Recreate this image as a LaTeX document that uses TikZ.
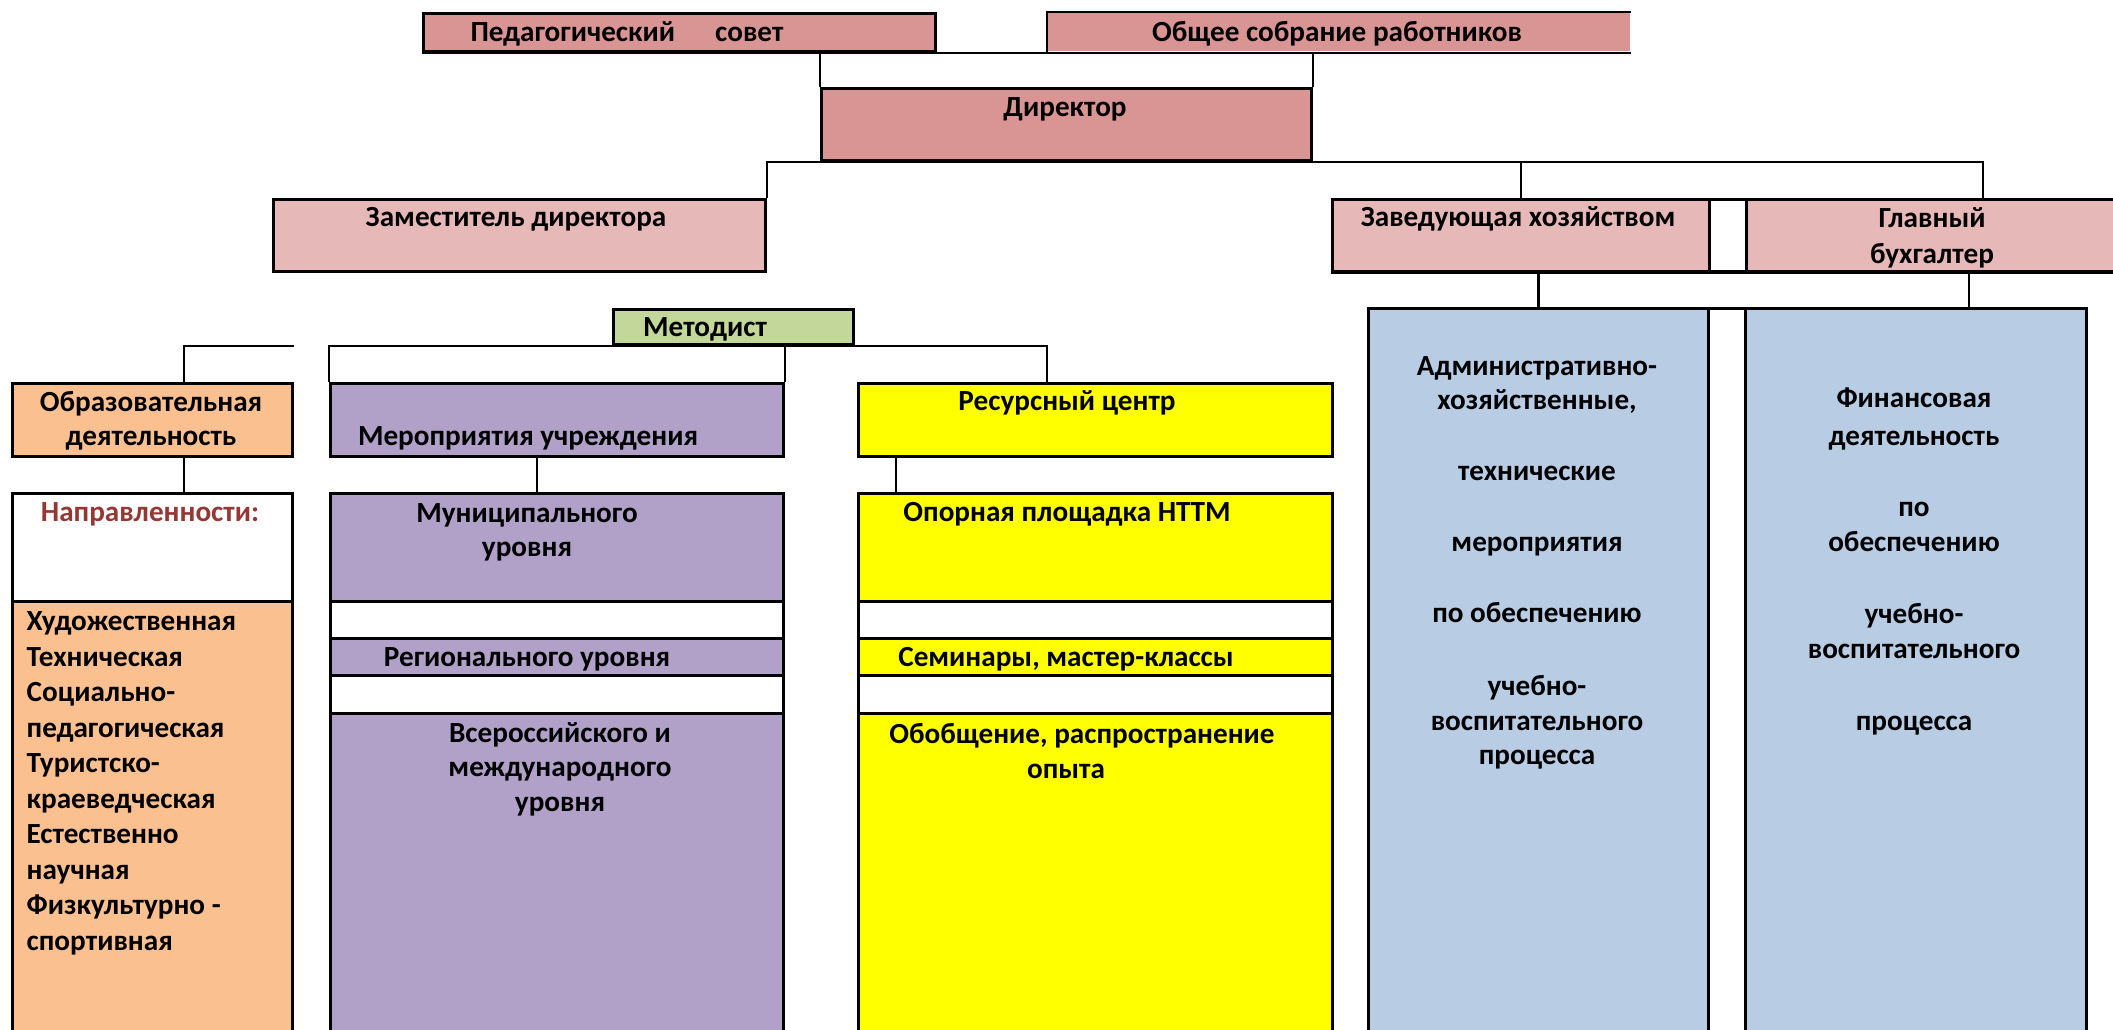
\documentclass[tikz,border=0pt]{standalone}
\usepackage{fontspec}
\setmainfont{Carlito}
\usetikzlibrary{positioning}
\definecolor{pedrose}{HTML}{D99594}
\definecolor{zamrose}{HTML}{E6B8B7}
\definecolor{metgreen}{HTML}{C4D79B}
\definecolor{obrorange}{HTML}{FAC090}
\definecolor{merlilac}{HTML}{B1A0C7}
\definecolor{resyellow}{HTML}{FFFF00}
\definecolor{admblue}{HTML}{B8CCE4}
\definecolor{napred}{HTML}{953735}
\tikzset{box/.style={draw, line width=0.8pt, anchor=north west, inner sep=0pt}}
\tikzset{gapbox/.style={box, fill=white}}
\tikzset{edge/.style={line width=0.7pt}}
\tikzset{lbl/.style={anchor=base, inner sep=0pt, align=center, font=\fontsize{8.3}{9.9}\selectfont\bfseries}}
\tikzset{mlbl/.style={lbl, anchor=north}}

\begin{document}
\begin{tikzpicture}[x=0.01cm, y=-0.01cm]
            \useasboundingbox (0,0) rectangle (2113,1029);

            % management
            \node [box, fill=pedrose, minimum width=5.12cm, minimum height=0.38cm] (Ped) at (422,12) {};
            \node [box, draw=none, fill=pedrose, minimum width=5.81cm, minimum height=0.38cm] (Obs) at (1047,12) {};
            \node [box, fill=pedrose, minimum width=4.90cm, minimum height=0.72cm] (Dir) at (820,87) {};
            \node [box, fill=zamrose, minimum width=4.92cm, minimum height=0.72cm] (Zam) at (272,198) {};
            \node [box, fill=zamrose, minimum width=3.77cm, minimum height=0.72cm] (Zav) at (1331,198) {};
            \node [gapbox, minimum width=0.37cm, minimum height=0.72cm] (Zg) at (1708,198) {};
            \node [box, fill=zamrose, minimum width=3.80cm, minimum height=0.72cm] (Gb) at (1745,198) {};
            \node [box, fill=metgreen, minimum width=2.40cm, minimum height=0.35cm] (Met) at (612,308) {};

            % second level
            \node [box, fill=obrorange, minimum width=2.80cm, minimum height=0.73cm] (Obr) at (11,382) {};
            \node [box, fill=merlilac, minimum width=4.53cm, minimum height=0.73cm] (Mer) at (329,382) {};
            \node [box, fill=resyellow, minimum width=4.74cm, minimum height=0.73cm] (Res) at (857,382) {};

            \node [gapbox, minimum width=2.80cm, minimum height=1.08cm] (Nap) at (11,492) {};
            \node [box, fill=obrorange, minimum width=2.80cm, minimum height=4.40cm] (Nsp) at (11,600) {};

            \node [box, fill=merlilac, minimum width=4.53cm, minimum height=1.08cm] (Mun) at (329,492) {};
            \node [gapbox, minimum width=4.53cm, minimum height=0.37cm] (Mg1) at (329,600) {};
            \node [box, fill=merlilac, minimum width=4.53cm, minimum height=0.37cm] (Reg) at (329,637) {};
            \node [gapbox, minimum width=4.53cm, minimum height=0.38cm] (Mg2) at (329,674) {};
            \node [box, fill=merlilac, minimum width=4.53cm, minimum height=3.30cm] (Vse) at (329,712) {};

            \node [box, fill=resyellow, minimum width=4.74cm, minimum height=1.08cm] (Opo) at (857,492) {};
            \node [gapbox, minimum width=4.74cm, minimum height=0.37cm] (Rg1) at (857,600) {};
            \node [box, fill=resyellow, minimum width=4.74cm, minimum height=0.37cm] (Sem) at (857,637) {};
            \node [gapbox, minimum width=4.74cm, minimum height=0.38cm] (Rg2) at (857,674) {};
            \node [box, fill=resyellow, minimum width=4.74cm, minimum height=3.30cm] (Obo) at (857,712) {};

            \node [box, fill=admblue, minimum width=3.40cm, minimum height=7.30cm] (Adm) at (1367,307) {};
            \node [gapbox, minimum width=0.37cm, minimum height=7.30cm] (Ag) at (1707,307) {};
            \node [box, fill=admblue, minimum width=3.41cm, minimum height=7.30cm] (Fin) at (1744,307) {};

            % labels
            \node [lbl] (tPed) at (627,41) {Педагогический\hspace{0.4cm}совет};
            \node [lbl] (tObs) at (1337,41) {Общее собрание работников};
            \node [lbl] (tDir) at (1065,116) {Директор};
            \node [lbl] (tZam) at (516,226) {Заместитель директора};
            \node [lbl] (tZav) at (1518,226) {Заведующая хозяйством};
            \node [mlbl] (tGb) at (1932,202) {\strut Главный\\[0.02cm]бухгалтер};
            \node [lbl] (tMet) at (705,336) {Методист};
            \node [mlbl] (tObr) at (151,386) {\strut Образовательная\\деятельность};
            \node [lbl] (tMer) at (528,445) {Мероприятия учреждения};
            \node [lbl] (tRes) at (1067,410) {Ресурсный центр};
            \node [lbl, text=napred] (tNap) at (150,521) {Направленности:};
            \node [mlbl, anchor=north west, align=left, font=\fontsize{8.3}{10.1}\selectfont\bfseries] (tNsp) at (26,605) {\strut Художественная\\Техническая\\Социально-\\педагогическая\\Туристско-\\краеведческая\\Естественно\\научная\\Физкультурно -\\спортивная};
            \node [mlbl] (tMun) at (527,497) {\strut Муниципального\\уровня};
            \node [lbl] (tReg) at (527,666) {Регионального уровня};
            \node [mlbl] (tVse) at (560,717) {\strut Всероссийского и\\международного\\уровня};
            \node [lbl] (tOpo) at (1067,521) {Опорная площадка НТТМ};
            \node [lbl] (tSem) at (1066,666) {Семинары, мастер-классы};
            \node [lbl] (tObo) at (1082,743) {Обобщение, распространение};
            \node [lbl] (tOpy) at (1066,778) {опыта};
            \node [mlbl] (tAdm) at (1537,350) {\strut Административно-\\хозяйственные,\\[0.36cm]технические\\[0.36cm]мероприятия\\[0.36cm]по обеспечению\\[0.38cm]учебно-\\воспитательного\\процесса};
            \node [mlbl] (tFin) at (1914,382) {\strut Финансовая\\[0.04cm]деятельность\\[0.36cm]по\\обеспечению\\[0.37cm]учебно-\\воспитательного\\[0.37cm]процесса};

            % connectors
            \coordinate (GbIn) at (1983,198);
            \coordinate (FinIn) at (1969,307);
            \coordinate (ObrIn) at (184,382);
            \coordinate (ResIn) at (1047,382);
            \coordinate (MunIn) at (537,492);
            \coordinate (OpoIn) at (896,492);

            \draw [edge] (Obs.north east) -- (Obs.north west) -- (Obs.south west);
            \draw [edge] (Ped.south west) -- (Obs.south east);
            \draw [edge] (Dir.north west |- Ped.south) -- (Dir.north west);
            \draw [edge] (Dir.north east |- Obs.south) -- (Dir.north east);
            \draw [edge] (Zam.north east) -- (Zam.north east |- Dir.south) -- (GbIn |- Dir.south) -- (GbIn);
            \draw [edge] (Zav.north |- Dir.south) -- (Zav.north);
            \draw [edge] (Zav.south west) -- (Gb.south east);
            \draw [edge] (Adm.north |- Zav.south) -- (Adm.north);
            \draw [edge] (FinIn |- Gb.south) -- (FinIn);
            \draw [edge] (ObrIn) |- (Obr.north east |- Met.south);
            \draw [edge] (Mer.north west) -- (Mer.north west |- Met.south) -- (ResIn |- Met.south) -- (ResIn);
            \draw [edge] (Mer.north east |- Met.south) -- (Mer.north east);
            \draw [edge] (ObrIn |- Obr.south) -- (ObrIn |- Nap.north);
            \draw [edge] (MunIn |- Mer.south) -- (MunIn);
            \draw [edge] (OpoIn |- Res.south) -- (OpoIn);
        \end{tikzpicture}
\end{document}
